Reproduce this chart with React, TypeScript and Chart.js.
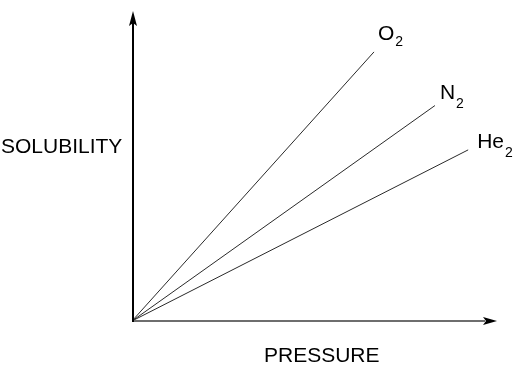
import { useEffect, useRef } from 'react';
import { Chart, registerables } from 'chart.js';

Chart.register(...registerables);

// ---- data ----
const gasSymbols = ['O', 'N', 'He'];
const gasSubscripts = ['2', '2', '2'];
const pressureEnd = [66.3, 83.0, 92.1];
const solubilityEnd = [86.8, 69.5, 55.2];
const xAxisTitle = 'PRESSURE';
const yAxisTitle = 'SOLUBILITY';

// ---- styles / positions ----
const FONT = '"Liberation Sans", Arial, sans-serif';
const labelOffsets: [number, number][] = [
  [4, -11.5],
  [5, -6.5],
  [9, -2],
];
const subOffsets = [6, 8.5, 9.5];

export default function App() {
  const ref = useRef<HTMLCanvasElement>(null);

  useEffect(() => {
    if (!ref.current) return;

    const diagramPlugin = {
      id: 'diagram',
      afterDatasetsDraw(chart: any) {
        const { ctx, scales } = chart;
        const xs = scales.x;
        const ys = scales.y;
        const x0 = xs.getPixelForValue(0);
        const y0 = ys.getPixelForValue(0);
        const xMax = xs.getPixelForValue(100);
        const yMax = ys.getPixelForValue(100);
        ctx.save();

        // x axis (gray line + black arrowhead)
        ctx.strokeStyle = '#6e6e6e';
        ctx.lineWidth = 2;
        ctx.beginPath();
        ctx.moveTo(x0, y0);
        ctx.lineTo(xMax - 12, y0);
        ctx.stroke();
        ctx.fillStyle = '#000';
        ctx.beginPath();
        ctx.moveTo(xMax, y0);
        ctx.lineTo(xMax - 14, y0 - 4);
        ctx.lineTo(xMax - 11, y0);
        ctx.lineTo(xMax - 14, y0 + 4);
        ctx.closePath();
        ctx.fill();

        // y axis (black line + arrowhead)
        const ax = x0 + 1;
        ctx.strokeStyle = '#000';
        ctx.lineWidth = 2;
        ctx.beginPath();
        ctx.moveTo(ax, y0 + 1);
        ctx.lineTo(ax, yMax + 12);
        ctx.stroke();
        ctx.beginPath();
        ctx.moveTo(ax, yMax);
        ctx.lineTo(ax - 4, yMax + 15);
        ctx.lineTo(ax, yMax + 12);
        ctx.lineTo(ax + 4, yMax + 15);
        ctx.closePath();
        ctx.fill();

        // axis titles
        ctx.fillStyle = '#000';
        ctx.textBaseline = 'alphabetic';
        ctx.textAlign = 'left';
        ctx.font = `21px ${FONT}`;
        ctx.fillText(yAxisTitle, x0 - 131, y0 - 168);
        ctx.fillText(xAxisTitle, x0 + 132, y0 + 41);

        // series labels
        for (let i = 0; i < gasSymbols.length; i++) {
          const px = xs.getPixelForValue(pressureEnd[i]) + labelOffsets[i][0];
          const py = ys.getPixelForValue(solubilityEnd[i]) + labelOffsets[i][1];
          ctx.font = `21px ${FONT}`;
          ctx.fillText(gasSymbols[i], px, py);
          const w = ctx.measureText(gasSymbols[i]).width;
          ctx.font = `14px ${FONT}`;
          ctx.fillText(gasSubscripts[i], px + w + 1, py + subOffsets[i]);
        }
        ctx.restore();
      },
    };

    const chart = new Chart(ref.current, {
      type: 'line',
      data: {
        datasets: gasSymbols.map((g, i) => ({
          label: g + gasSubscripts[i],
          data: [
            { x: 0, y: 0 },
            { x: pressureEnd[i], y: solubilityEnd[i] },
          ],
          borderColor: '#2a2a2a',
          borderWidth: 1,
          pointRadius: 0,
          fill: false,
          tension: 0,
        })),
      },
      options: {
        responsive: false,
        animation: false,
        layout: { padding: { left: 132, right: 27, top: 11, bottom: 57 } },
        scales: {
          x: { type: 'linear', min: 0, max: 100, display: false },
          y: { type: 'linear', min: 0, max: 100, display: false },
        },
        plugins: {
          legend: { display: false },
          tooltip: { enabled: false },
        },
      },
      plugins: [diagramPlugin],
    });

    return () => chart.destroy();
  }, []);

  return (
    <div style={{ position: 'fixed', left: 0, top: 0, width: 524, height: 378, background: '#fff' }}>
      <canvas ref={ref} width={524} height={378} style={{ display: 'block' }} />
    </div>
  );
}
